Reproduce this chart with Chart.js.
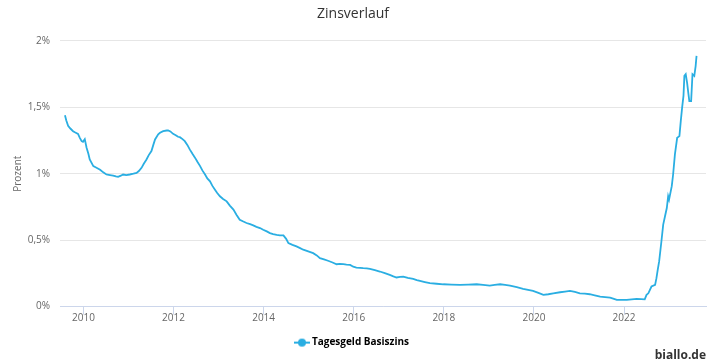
<!DOCTYPE html>
<html><head><meta charset="utf-8">
<script src="https://cdn.jsdelivr.net/npm/chart.js@4/dist/chart.umd.min.js"></script>
<style>html,body{margin:0;padding:0;background:#fff}</style>
</head><body>
<canvas id="c" width="710" height="362"></canvas>
<script>
const chartTitle = 'Zinsverlauf';
const seriesName = 'Tagesgeld Basiszins';
const sourceLabel = 'biallo.de';
const yAxisTitle = 'Prozent';
const yTicks = [0, 0.5, 1, 1.5, 2];
const yTickLabels = ['0%', '0,5%', '1%', '1,5%', '2%'];
const xTicks = [2010, 2012, 2014, 2016, 2018, 2020, 2022];
const xTickLabels = ['2010', '2012', '2014', '2016', '2018', '2020', '2022'];

const years = [
2009.59,2009.62,2009.66,2009.71,2009.77,2009.82,2009.88,2009.92,2009.96,2009.99,
2010.03,2010.07,2010.11,2010.14,2010.22,2010.29,2010.37,2010.44,2010.51,2010.59,
2010.66,2010.72,2010.77,2010.83,2010.88,2010.95,2011.03,2011.11,2011.18,2011.23,
2011.29,2011.34,2011.40,2011.45,2011.51,2011.55,2011.59,2011.66,2011.70,2011.77,
2011.85,2011.88,2011.93,2011.99,2012.05,2012.10,2012.14,2012.20,2012.25,2012.31,
2012.36,2012.42,2012.48,2012.53,2012.59,2012.64,2012.70,2012.75,2012.81,2012.86,
2012.92,2012.97,2013.03,2013.10,2013.18,2013.25,2013.33,2013.40,2013.47,2013.55,
2013.62,2013.70,2013.77,2013.84,2013.92,2013.99,2014.07,2014.14,2014.21,2014.29,
2014.36,2014.44,2014.50,2014.55,2014.64,2014.73,2014.81,2014.88,2014.99,2015.10,
2015.18,2015.25,2015.34,2015.43,2015.53,2015.62,2015.69,2015.77,2015.84,2015.92,
2015.99,2016.06,2016.14,2016.21,2016.29,2016.36,2016.47,2016.58,2016.69,2016.80,
2016.88,2016.95,2017.03,2017.10,2017.20,2017.32,2017.40,2017.47,2017.58,2017.69,
2017.84,2017.99,2018.17,2018.36,2018.54,2018.73,2018.87,2019.02,2019.13,2019.25,
2019.36,2019.47,2019.62,2019.76,2019.87,2019.98,2020.10,2020.21,2020.32,2020.43,
2020.58,2020.69,2020.80,2020.91,2021.02,2021.13,2021.24,2021.35,2021.47,2021.58,
2021.69,2021.76,2021.84,2021.95,2022.06,2022.17,2022.28,2022.38,2022.46,2022.50,
2022.54,2022.61,2022.69,2022.72,2022.75,2022.78,2022.83,2022.87,2022.91,2022.95,
2022.98,2023.00,2023.06,2023.09,2023.13,2023.18,2023.23,2023.26,2023.29,2023.32,
2023.34,2023.37,2023.40,2023.43,2023.45,2023.49,2023.52,2023.56,2023.59,2023.61
];
const rates = [
1.44,1.40,1.36,1.34,1.32,1.31,1.30,1.27,1.245,1.24,
1.26,1.195,1.15,1.107,1.057,1.045,1.03,1.01,0.994,0.99,
0.986,0.98,0.976,0.985,0.994,0.99,0.994,1.0,1.006,1.02,
1.044,1.075,1.107,1.14,1.17,1.215,1.258,1.296,1.308,1.32,
1.325,1.326,1.318,1.30,1.29,1.278,1.275,1.26,1.245,1.215,
1.183,1.15,1.119,1.09,1.057,1.025,0.994,0.965,0.943,0.91,
0.88,0.855,0.83,0.81,0.792,0.76,0.73,0.69,0.654,0.64,
0.629,0.62,0.611,0.60,0.591,0.578,0.566,0.553,0.546,0.54,
0.536,0.536,0.51,0.478,0.465,0.453,0.44,0.428,0.415,0.402,
0.385,0.365,0.355,0.345,0.332,0.319,0.322,0.319,0.316,0.314,
0.30,0.294,0.292,0.289,0.288,0.284,0.274,0.264,0.252,0.239,
0.228,0.219,0.224,0.226,0.216,0.209,0.20,0.194,0.185,0.176,
0.172,0.168,0.166,0.164,0.166,0.168,0.163,0.158,0.163,0.168,
0.163,0.158,0.146,0.134,0.126,0.118,0.103,0.088,0.093,0.10,
0.108,0.113,0.118,0.11,0.10,0.097,0.093,0.085,0.075,0.072,
0.068,0.06,0.05,0.05,0.05,0.054,0.058,0.056,0.055,0.088,
0.10,0.151,0.164,0.214,0.28,0.34,0.49,0.617,0.68,0.742,
0.83,0.805,0.906,0.994,1.145,1.27,1.283,1.396,1.497,1.585,
1.736,1.749,1.686,1.60,1.547,1.547,1.749,1.736,1.81,1.887
];

const lineColor = '#2aaee2';
const FONT = "'Open Sans', 'DejaVu Sans', sans-serif";

// legend symbol: short line with a dot
const sym = document.createElement('canvas');
sym.width = 16; sym.height = 10;
(function(){
  const g = sym.getContext('2d');
  g.strokeStyle = lineColor; g.lineWidth = 2;
  g.beginPath(); g.moveTo(0, 5); g.lineTo(16, 5); g.stroke();
  g.fillStyle = lineColor;
  g.beginPath(); g.arc(8, 5, 4, 0, Math.PI * 2); g.fill();
})();

const points = years.map((x, i) => ({x: x, y: rates[i]}));

new Chart(document.getElementById('c'), {
  type: 'line',
  data: {
    datasets: [{
      label: seriesName,
      data: points,
      borderColor: lineColor,
      backgroundColor: lineColor,
      borderWidth: 1.8,
      pointRadius: 0,
      tension: 0,
      fill: false
    }]
  },
  options: {
    responsive: false,
    animation: false,
    devicePixelRatio: 1,
    layout: {padding: {left: 0, right: 4, top: 0, bottom: 0}},
    plugins: {
      title: {
        display: true, text: chartTitle, color: '#333333',
        font: {family: FONT, size: 14, weight: 'normal'},
        padding: {top: 6, bottom: 18}
      },
      subtitle: {
        display: true, text: sourceLabel, position: 'bottom', align: 'end',
        color: '#333333',
        font: {family: FONT, size: 12, weight: 'bold'},
        padding: {top: -9, bottom: -1}
      },
      legend: {
        position: 'bottom',
        labels: {
          color: '#333333',
          font: {family: FONT, size: 10, weight: 'bold'},
          usePointStyle: true,
          padding: 10,
          generateLabels: (chart) => chart.data.datasets.map((ds, i) => ({
            text: ds.label, pointStyle: sym, fillStyle: lineColor,
            strokeStyle: lineColor, lineWidth: 0, datasetIndex: i, hidden: false
          }))
        }
      },
      tooltip: {enabled: false}
    },
    scales: {
      x: {
        type: 'linear',
        min: 2009.48, max: 2023.82,
        afterBuildTicks: (s) => { s.ticks = xTicks.map(v => ({value: v})); },
        afterFit: (s) => { s.height = 21; },
        ticks: {
          color: '#666666', font: {family: FONT, size: 10}, padding: -2,
          maxRotation: 0, autoSkip: false,
          callback: (v) => xTickLabels[xTicks.indexOf(v)]
        },
        grid: {drawOnChartArea: false, drawTicks: true, tickLength: 8, color: '#ccd6eb'},
        border: {display: true, color: '#ccd6eb'}
      },
      y: {
        min: 0, max: 2,
        afterBuildTicks: (s) => { s.ticks = yTicks.map(v => ({value: v})); },
        afterFit: (s) => { s.width = 60; },
        ticks: {
          color: '#666666', font: {family: FONT, size: 10}, padding: 10,
          callback: (v) => yTickLabels[yTicks.indexOf(v)]
        },
        grid: {color: '#e6e6e6', drawTicks: false},
        border: {display: false},
        title: {
          display: true, text: yAxisTitle, color: '#666666',
          font: {family: FONT, size: 10}, padding: {top: 12, bottom: 0}
        }
      }
    }
  }
});
</script>
</body></html>
